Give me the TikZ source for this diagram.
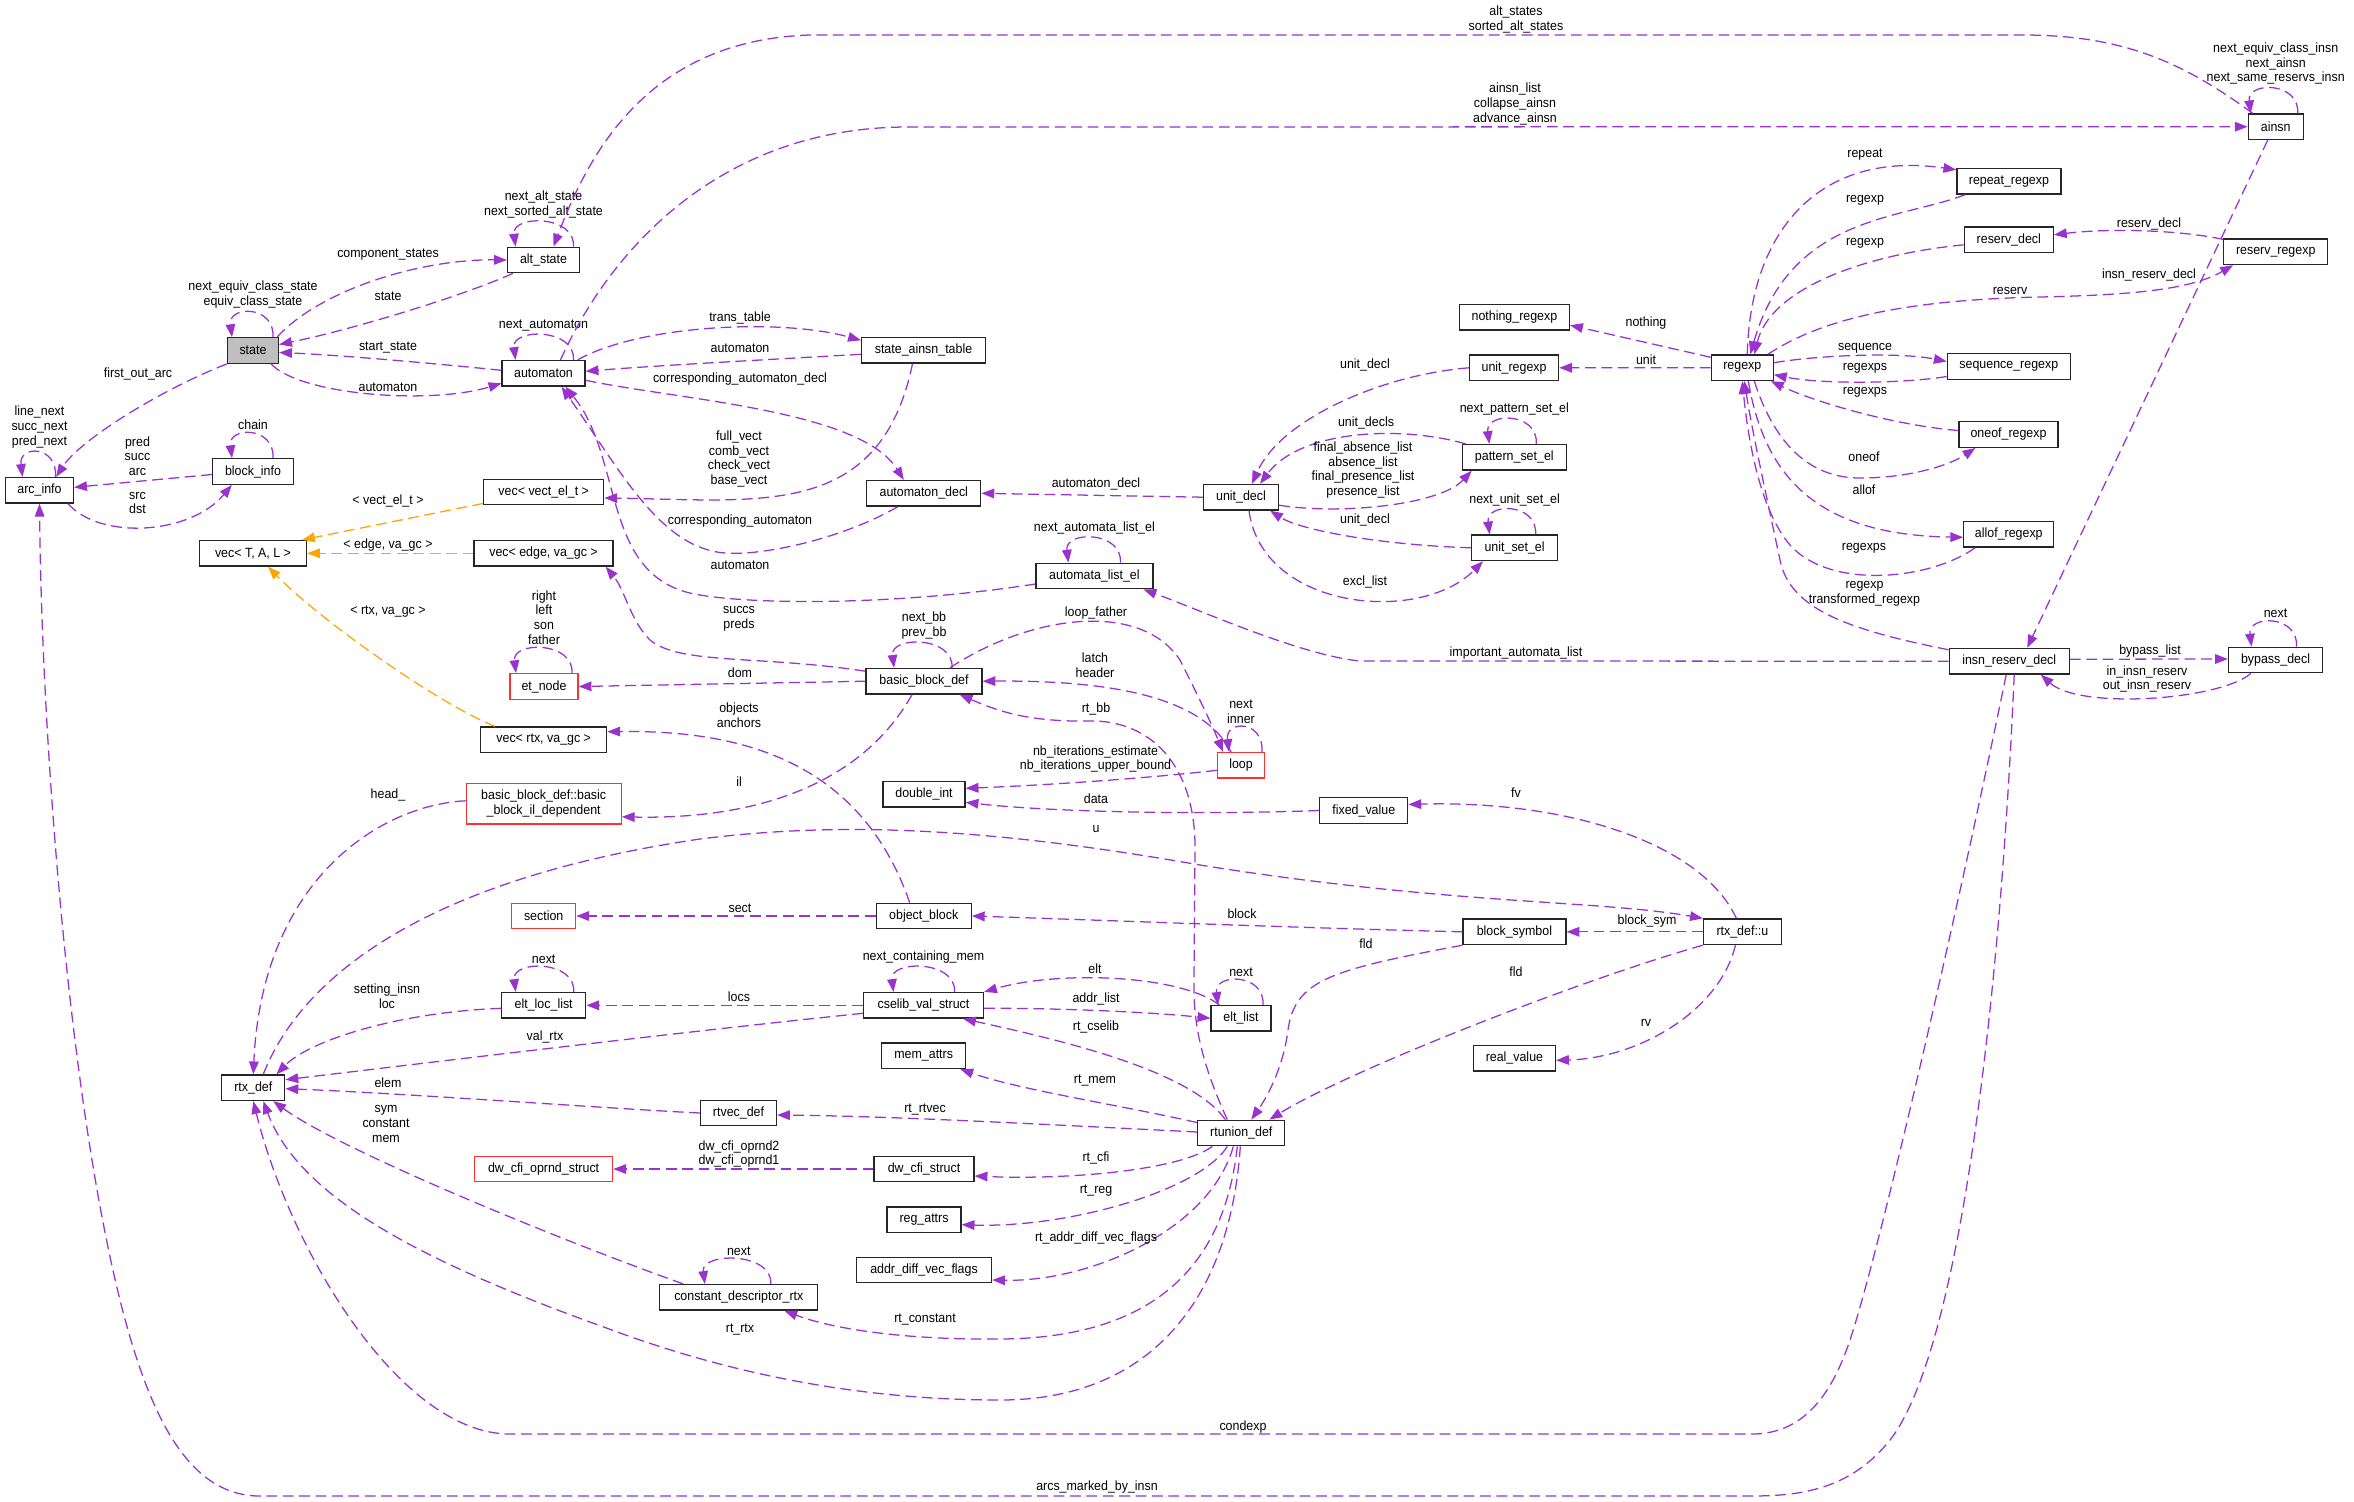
\documentclass[tikz,border=0pt]{standalone}
\usepackage{fontspec}
\setmainfont{Liberation Sans}[FakeStretch=0.93]
\usetikzlibrary{arrows.meta,calc}
\definecolor{dxpurple}{HTML}{9A32CD}
\definecolor{dxorange}{HTML}{FFA500}
\definecolor{dxred}{HTML}{FF3030}
\definecolor{dxgray}{HTML}{BFBFBF}
\newcommand\dxfont{\fontsize{9.5pt}{10.5pt}\selectfont}

\begin{document}
\begin{tikzpicture}[x=0.25mm, y=-0.25mm,
  box/.style={draw=black!85, fill=white, line width=0.9pt, minimum width=#1*0.25mm, minimum height=6.4mm, inner sep=1pt, font=\dxfont, align=center},
  redbox/.style={box=#1, draw=dxred},
  assoc/.style={draw=dxpurple, line width=0.9pt, dash pattern=on 2.7mm off 1.4mm, -{Triangle[length=3.2mm, width=2.4mm]}},
  tmpl/.style={assoc, draw=dxorange},
  lbl/.style={font=\dxfont, align=center, inner sep=0pt}
]
\fill[white] (0,0) rectangle (2354,1501);
\useasboundingbox (0,0) rectangle (2354,1501);

% automaton side
\node[box=51, fill=dxgray] (state) at (253,350.5) {state};
\node[box=72] (alt_state) at (543.5,260) {alt\_state};
\node[box=83] (automaton) at (543.5,373.3) {automaton};
\node[box=68] (arc_info) at (39.5,490.3) {arc\_info};
\node[box=81] (block_info) at (253,471.5) {block\_info};
\node[box=120] (vecvect) at (543.7,492) {vec< vect\_el\_t >};
\node[box=107] (vectal) at (253,553.3) {vec< T, A, L >};
\node[box=139] (vecedge) at (543.5,553.3) {vec< edge, va\_gc >};
\node[box=124] (sat) at (923.5,350.3) {state\_ainsn\_table};
\node[box=114] (automaton_decl) at (923.8,493.3) {automaton\_decl};
\node[box=117] (automata_list_el) at (1094.4,576) {automata\_list\_el};
\node[box=75] (unit_decl) at (1241,497.2) {unit\_decl};
\node[box=104] (pattern_set_el) at (1514.3,457.3) {pattern\_set\_el};
\node[box=86] (unit_set_el) at (1514.6,547.8) {unit\_set\_el};

% regexp side
\node[box=55] (ainsn) at (2275.7,126.7) {ainsn};
\node[box=104] (repeat) at (2008.9,181.2) {repeat\_regexp};
\node[box=89] (reserv_decl) at (2008.8,239.8) {reserv\_decl};
\node[box=104] (reserv_regexp) at (2275.7,251.8) {reserv\_regexp};
\node[box=110] (nothing) at (1514.4,317.2) {nothing\_regexp};
\node[box=89] (unit_regexp) at (1514.1,367.8) {unit\_regexp};
\node[box=62] (regexp) at (1742.3,367.7) {regexp};
\node[box=123] (sequence) at (2008.8,366.5) {sequence\_regexp};
\node[box=99] (oneof) at (2008.5,434.5) {oneof\_regexp};
\node[box=90] (allof) at (2008.8,534.3) {allof\_regexp};
\node[box=120] (insn_reserv) at (2009.2,661.2) {insn\_reserv\_decl};
\node[box=94] (bypass) at (2275.5,660) {bypass\_decl};

% rtl side
\node[redbox=68] (et_node) at (544,686.5) {et\_node};
\node[box=126] (vecrtx) at (543.7,739.7) {vec< rtx, va\_gc >};
\node[redbox=155, minimum height=10.1mm] (bbil) at (543.7,803.8) {basic\_block\_def::basic\\\_block\_il\_dependent};
\node[redbox=64] (section) at (543.7,916) {section};
\node[box=84] (elt_loc_list) at (543.7,1005.3) {elt\_loc\_list};
\node[box=63] (rtx_def) at (253.3,1087.7) {rtx\_def};
\node[box=76] (rtvec_def) at (738.5,1113) {rtvec\_def};
\node[redbox=138] (dw_cfi_oprnd) at (543.6,1169) {dw\_cfi\_oprnd\_struct};
\node[box=158] (cdrtx) at (738.8,1297.3) {constant\_descriptor\_rtx};
\node[box=116] (bbdef) at (924,681.2) {basic\_block\_def};
\node[redbox=47] (loop) at (1241,765.3) {loop};
\node[box=82] (double_int) at (924,794.3) {double\_int};
\node[box=88] (fixed_value) at (1363.8,810.5) {fixed\_value};
\node[box=95] (object_block) at (923.7,916) {object\_block};
\node[box=103] (block_symbol) at (1514.4,931.8) {block\_symbol};
\node[box=78] (rtxu) at (1742.4,931.8) {rtx\_def::u};
\node[box=82] (real_value) at (1514.4,1058.3) {real\_value};
\node[box=120] (cselib) at (923.5,1005.3) {cselib\_val\_struct};
\node[box=60] (elt_list) at (1241,1018.3) {elt\_list};
\node[box=84] (mem_attrs) at (923.7,1055.7) {mem\_attrs};
\node[box=87] (rtunion) at (1241.3,1133) {rtunion\_def};
\node[box=100] (dw_cfi_struct) at (924,1169) {dw\_cfi\_struct};
\node[box=74] (reg_attrs) at (924,1219.7) {reg\_attrs};
\node[box=135] (adv_flags) at (924,1270) {addr\_diff\_vec\_flags};

% self references
\foreach \nd/\lo/\ro/\txt in {
  state/21/20/{next\_equiv\_class\_state\\equiv\_class\_state},
  alt_state/28/30/{next\_alt\_state\\next\_sorted\_alt\_state},
  automaton/28/30/{next\_automaton},
  arc_info/17/16/{line\_next\\succ\_next\\pred\_next},
  block_info/21/20/{chain},
  et_node/28/28/{right\\left\\son\\father},
  elt_loc_list/28/30/{next},
  automata_list_el/26/26/{next\_automata\_list\_el},
  bbdef/30/28/{next\_bb\\prev\_bb},
  loop/12/21/{next\\inner},
  cselib/30/31/{next\_containing\_mem},
  elt_list/23/22/{next},
  cdrtx/34/32/{next},
  pattern_set_el/25/22/{next\_pattern\_set\_el},
  unit_set_el/25/21/{next\_unit\_set\_el},
  bypass/24/21/{next},
  ainsn/25/22/{next\_equiv\_class\_insn\\next\_ainsn\\next\_same\_reservs\_insn}}
  \draw[assoc] ($(\nd.north)+(\ro,0)$) .. controls +(2,-32) and +(-4,-32) .. ($(\nd.north)+(-\lo,0)$)
    node[lbl, anchor=south] at ($(\nd.north)+(0,-28)$) {\txt};

% state, automaton and units
\draw[assoc] ($(state.north east)+(-2,0)$) .. controls (320,290) and (420,259) .. (alt_state.west) node[lbl] at (388,255) {component\_states};
\draw[assoc] ($(alt_state.south west)+(6,0)$) .. controls (460,297) and (350,330) .. ($(state.east)+(0,-6)$) node[lbl] at (388,296) {state};
\draw[assoc] ($(automaton.west)+(0,-3)$) .. controls (440,364) and (340,355) .. ($(state.east)+(0,2)$) node[lbl] at (388,348) {start\_state};
\draw[assoc] ($(state.south east)+(-8,0)$) .. controls (300,395) and (430,405) .. ($(automaton.west)+(0,10)$) node[lbl] at (388,387) {automaton};
\draw[assoc] ($(ainsn.north west)+(5,0)$) .. controls (2180,60) and (2120,35) .. (2022,35) -- (810,35) .. controls (650,40) and (590,150) .. ($(alt_state.north)+(10,0)$) node[lbl] at (1516,19.5) {alt\_states\\sorted\_alt\_states};
\draw[assoc] ($(automaton.north)+(17,0)$) .. controls (610,250) and (720,127) .. (908,127) -- (ainsn.west) node[lbl] at (1515,104) {ainsn\_list\\collapse\_ainsn\\advance\_ainsn};
\draw[assoc] ($(automaton.north east)+(-8,0)$) .. controls (640,325) and (780,318) .. ($(sat.west)+(0,-10)$) node[lbl] at (740,318) {trans\_table};
\draw[assoc] ($(sat.west)+(0,4)$) .. controls (760,360) and (650,366) .. ($(automaton.east)+(0,-2)$) node[lbl] at (740,348) {automaton};
\draw[assoc] ($(automaton.east)+(0,7)$) .. controls (680,400) and (860,410) .. ($(automaton_decl.north)+(-20,0)$) node[lbl] at (740,379) {corresponding\_automaton\_decl};
\draw[assoc] ($(sat.south)+(-11,0)$) .. controls (880,520) and (760,500) .. ($(vecvect.east)+(0,6)$) node[lbl] at (739,459) {full\_vect\\comb\_vect\\check\_vect\\base\_vect};
\draw[assoc] ($(automaton_decl.south)+(-26,0)$) .. controls (840,540) and (760,556) .. (725,553) .. controls (660,548) and (620,470) .. ($(automaton.south)+(18,0)$) node[lbl] at (740,521) {corresponding\_automaton};
\draw[assoc] ($(automata_list_el.west)+(0,8)$) .. controls (900,605) and (760,605) .. (700,595) .. controls (600,580) and (625,460) .. ($(automaton.south)+(22,0)$) node[lbl] at (740,565) {automaton};
\draw[assoc] (unit_decl.west) -- (automaton_decl.east) node[lbl] at (1096,484) {automaton\_decl};
\draw[assoc] (unit_regexp.west) .. controls (1380,375) and (1280,420) .. ($(unit_decl.north)+(11,0)$) node[lbl] at (1365,365) {unit\_decl};
\draw[assoc] ($(pattern_set_el.north west)+(4,0)$) .. controls (1400,425) and (1300,430) .. ($(unit_decl.north)+(19,0)$) node[lbl] at (1366,423) {unit\_decls};
\draw[assoc] ($(unit_decl.east)+(0,8)$) .. controls (1340,515) and (1440,505) .. ($(pattern_set_el.south west)+(10,0)$) node[lbl] at (1363,470) {final\_absence\_list\\absence\_list\\final\_presence\_list\\presence\_list};
\draw[assoc] (unit_set_el.west) .. controls (1380,545) and (1300,530) .. ($(unit_decl.south east)+(-9,0)$) node[lbl] at (1365,520) {unit\_decl};
\draw[assoc] ($(unit_decl.south)+(8,0)$) .. controls (1262,610) and (1420,625) .. ($(unit_set_el.south west)+(12,0)$) node[lbl] at (1365,582) {excl\_list};

% arcs
\draw[assoc] (state.south west) .. controls (160,390) and (80,440) .. ($(arc_info.north east)+(-18,0)$) node[lbl] at (138,374) {first\_out\_arc};
\draw[assoc] ($(block_info.west)+(0,3)$) -- ($(arc_info.east)+(0,-3)$) node[lbl] at (137.5,456) {pred\\succ\\arc};
\draw[assoc] ($(arc_info.south east)+(-6,0)$) .. controls (100,540) and (190,535) .. ($(block_info.south west)+(20,0)$) node[lbl] at (137.5,503) {src\\dst};

% template instances
\draw[tmpl] ($(vecvect.south west)+(0,-2)$) -- ($(vectal.north east)+(-5,0)$) node[lbl] at (388,501) {< vect\_el\_t >};
\draw[tmpl] (vecedge.west) -- (vectal.east) node[lbl] at (388,545) {< edge, va\_gc >};
\draw[tmpl] ($(vecrtx.north west)+(15,0)$) .. controls (440,705) and (320,620) .. ($(vectal.south)+(15,0)$) node[lbl] at (388,612) {< rtx, va\_gc >};

% regexp
\draw[assoc] ($(ainsn.south)+(-8,0)$) -- ($(insn_reserv.north)+(18,0)$) node[lbl] at (2149,275) {insn\_reserv\_decl};
\draw[assoc] ($(reserv_regexp.north west)+(0,1)$) .. controls (2180,230) and (2110,228) .. ($(reserv_decl.east)+(0,-5)$) node[lbl] at (2149,224) {reserv\_decl};
\draw[assoc] ($(regexp.north east)+(-6,0)$) .. controls (1820,320) and (1900,300) .. (2040,297) .. controls (2130,295) and (2190,290) .. ($(reserv_regexp.south west)+(10,0)$) node[lbl] at (2010,291) {reserv};
\draw[assoc] ($(regexp.north)+(5,0)$) .. controls (1750,230) and (1820,150) .. ($(repeat.north west)+(0,2)$) node[lbl] at (1865,155) {repeat};
\draw[assoc] ($(repeat.south west)+(9,0)$) .. controls (1900,220) and (1790,215) .. ($(regexp.north)+(8,0)$) node[lbl] at (1865,200) {regexp};
\draw[assoc] ($(reserv_decl.west)+(0,5)$) .. controls (1860,255) and (1770,290) .. ($(regexp.north)+(12,0)$) node[lbl] at (1865,243) {regexp};
\draw[assoc] ($(regexp.north west)+(0,3)$) -- ($(nothing.east)+(0,8)$) node[lbl] at (1646,323) {nothing};
\draw[assoc] (regexp.west) -- (unit_regexp.east) node[lbl] at (1646,360) {unit};
\draw[assoc] ($(regexp.east)+(0,-5)$) .. controls (1820,355) and (1900,352) .. ($(sequence.west)+(0,-5)$) node[lbl] at (1865,348) {sequence};
\draw[assoc] ($(sequence.west)+(0,10)$) .. controls (1900,384) and (1820,384) .. ($(regexp.east)+(0,7)$) node[lbl] at (1865,368) {regexps};
\draw[assoc] ($(oneof.west)+(0,-4)$) .. controls (1890,425) and (1810,400) .. ($(regexp.south east)+(-3,0)$) node[lbl] at (1865,392) {regexps};
\draw[assoc] ($(regexp.south)+(12,0)$) .. controls (1770,430) and (1800,478) .. (1860,478) .. controls (1910,478) and (1950,465) .. ($(oneof.south west)+(17,0)$) node[lbl] at (1864,457) {oneof};
\draw[assoc] ($(regexp.south)+(6,0)$) .. controls (1765,480) and (1820,535) .. ($(allof.west)+(0,3)$) node[lbl] at (1864,490) {allof};
\draw[assoc] ($(allof.south west)+(12,0)$) .. controls (1930,580) and (1830,590) .. (1790,545) .. controls (1760,510) and (1748,440) .. (regexp.south) node[lbl] at (1864,548) {regexps};
\draw[assoc] ($(insn_reserv.north west)+(0,2)$) .. controls (1850,630) and (1790,610) .. (1780,560) .. controls (1765,490) and (1752,430) .. ($(regexp.south)+(2,0)$) node[lbl] at (1864.5,594) {regexp\\transformed\_regexp};
\draw[assoc] (insn_reserv.west) -- (1360,661) .. controls (1300,655) and (1200,610) .. ($(automata_list_el.south east)+(-10,0)$) node[lbl] at (1516,653) {important\_automata\_list};
\draw[assoc] ($(insn_reserv.east)+(0,-2)$) -- ($(bypass.west)+(0,-1)$) node[lbl] at (2150,651) {bypass\_list};
\draw[assoc] ($(bypass.south west)+(23,0)$) .. controls (2220,700) and (2080,710) .. ($(insn_reserv.south east)+(-29,0)$) node[lbl] at (2147,679) {in\_insn\_reserv\\out\_insn\_reserv};
\draw[assoc] ($(insn_reserv.south)+(-3,0)$) .. controls (1960,900) and (1880,1250) .. (1850,1340) .. controls (1830,1400) and (1800,1434) .. (1752,1434) -- (510,1434) .. controls (400,1434) and (290,1250) .. (rtx_def.south) node[lbl] at (1243,1427) {condexp};
\draw[assoc] ($(insn_reserv.south)+(5,0)$) .. controls (2000,1000) and (1960,1350) .. (1890,1440) .. controls (1850,1490) and (1800,1496) .. (1750,1496) -- (260,1496) .. controls (190,1496) and (150,1420) .. (120,1300) .. controls (70,1100) and (42,750) .. (arc_info.south) node[lbl] at (1097,1487) {arcs\_marked\_by\_insn};

% basic blocks and loops
\draw[assoc] ($(bbdef.west)+(0,-10)$) .. controls (760,655) and (680,665) .. (650,640) .. controls (630,620) and (625,590) .. ($(vecedge.south east)+(-8,0)$) node[lbl] at (739,619) {succs\\preds};
\draw[assoc] (bbdef.west) -- (et_node.east) node[lbl] at (740,673) {dom};
\draw[assoc] ($(bbdef.north)+(26,0)$) .. controls (1030,615) and (1140,600) .. (1180,660) .. controls (1195,690) and (1210,720) .. ($(loop.north)+(-18,0)$) node[lbl] at (1096,613) {loop\_father};
\draw[assoc] ($(loop.north)+(-10,0)$) .. controls (1205,700) and (1120,680) .. (bbdef.east) node[lbl] at (1095,665.5) {latch\\header};
\draw[assoc] ($(rtunion.north)+(-14,0)$) .. controls (1200,1060) and (1193,1020) .. (1194,980) -- (1195,850) .. controls (1196,765) and (1150,720) .. (1090,721) .. controls (1030,722) and (1000,712) .. ($(bbdef.south east)+(-23,0)$) node[lbl] at (1096,709) {rt\_bb};
\draw[assoc] ($(loop.west)+(0,5)$) .. controls (1150,778) and (1050,785) .. ($(double_int.east)+(0,-6)$) node[lbl] at (1095.5,759) {nb\_iterations\_estimate\\nb\_iterations\_upper\_bound};
\draw[assoc] (fixed_value.west) .. controls (1200,815) and (1050,812) .. ($(double_int.east)+(0,8)$) node[lbl] at (1096,799) {data};
\draw[assoc] ($(bbdef.south)+(-12,0)$) .. controls (870,770) and (780,820) .. ($(bbil.east)+(0,13)$) node[lbl] at (739,782) {il};
\draw[assoc] ($(object_block.north)+(-14,0)$) .. controls (860,760) and (740,730) .. ($(vecrtx.east)+(0,-8)$) node[lbl] at (739,715) {objects\\anchors};
\draw[assoc] (object_block.west) -- (section.east) node[lbl] at (740,908) {sect};
\draw[assoc] (block_symbol.west) .. controls (1300,928) and (1100,920) .. (object_block.east) node[lbl] at (1242,914) {block};

% rtx
\draw[assoc] ($(rtxu.north)+(-6,0)$) .. controls (1700,840) and (1560,800) .. ($(fixed_value.east)+(0,-6)$) node[lbl] at (1516,793) {fv};
\draw[assoc] ($(rtx_def.north)+(10,0)$) .. controls (300,980) and (420,880) .. (700,839) .. controls (850,820) and (1000,830) .. (1200,865) .. controls (1450,905) and (1600,900) .. (rtxu.north west) node[lbl] at (1096,829) {u};
\draw[assoc] (rtxu.west) -- (block_symbol.east) node[lbl] at (1647,921) {block\_sym};
\draw[assoc] (block_symbol.south west) .. controls (1330,970) and (1295,980) .. (1288,1030) .. controls (1283,1070) and (1265,1100) .. ($(rtunion.north)+(10,0)$) node[lbl] at (1366,944) {fld};
\draw[assoc] (rtxu.south west) .. controls (1580,980) and (1350,1070) .. ($(rtunion.north east)+(-16,0)$) node[lbl] at (1516,972) {fld};
\draw[assoc] ($(rtxu.south)+(-7,0)$) .. controls (1720,1010) and (1640,1058) .. ($(real_value.east)+(0,2)$) node[lbl] at (1646,1023) {rv};
\draw[assoc] ($(elt_list.north west)+(9,0)$) .. controls (1180,975) and (1060,970) .. (cselib.north east) node[lbl] at (1095,969) {elt};
\draw[assoc] ($(cselib.east)+(0,3)$) .. controls (1060,1008) and (1150,1012) .. (elt_list.west) node[lbl] at (1096,999) {addr\_list};
\draw[assoc] (cselib.west) -- (elt_loc_list.east) node[lbl] at (739,997) {locs};
\draw[assoc] ($(elt_loc_list.west)+(0,3)$) .. controls (400,1012) and (310,1040) .. ($(rtx_def.north east)+(-9,0)$) node[lbl] at (387,996) {setting\_insn\\loc};
\draw[assoc] ($(cselib.west)+(0,8)$) .. controls (700,1030) and (450,1060) .. ($(rtx_def.east)+(0,-8)$) node[lbl] at (545,1037) {val\_rtx};
\draw[assoc] ($(rtunion.north)+(-16,0)$) .. controls (1190,1070) and (1060,1040) .. ($(cselib.south east)+(-21,0)$) node[lbl] at (1096,1027) {rt\_cselib};
\draw[assoc] ($(rtunion.north west)+(0,3)$) .. controls (1120,1105) and (1020,1090) .. ($(mem_attrs.south east)+(-6,0)$) node[lbl] at (1095,1080) {rt\_mem};
\draw[assoc] (rtvec_def.west) .. controls (600,1108) and (400,1093) .. ($(rtx_def.east)+(0,1)$) node[lbl] at (388,1083) {elem};
\draw[assoc] ($(rtunion.west)+(0,-1)$) .. controls (1000,1122) and (880,1116) .. ($(rtvec_def.east)+(0,2)$) node[lbl] at (925,1109) {rt\_rtvec};
\draw[assoc] ($(rtunion.south)+(-29,0)$) .. controls (1180,1170) and (1070,1180) .. ($(dw_cfi_struct.east)+(0,7)$) node[lbl] at (1096,1158) {rt\_cfi};
\draw[assoc] (dw_cfi_struct.west) -- (dw_cfi_oprnd.east) node[lbl] at (739,1154) {dw\_cfi\_oprnd2\\dw\_cfi\_oprnd1};
\draw[assoc] ($(rtunion.south)+(-14,0)$) .. controls (1200,1190) and (1070,1228) .. ($(reg_attrs.east)+(0,5)$) node[lbl] at (1096,1191) {rt\_reg};
\draw[assoc] ($(rtunion.south)+(-8,0)$) .. controls (1210,1230) and (1090,1282) .. ($(adv_flags.east)+(0,10)$) node[lbl] at (1096,1238) {rt\_addr\_diff\_vec\_flags};
\draw[assoc] ($(rtunion.south)+(-4,0)$) .. controls (1225,1260) and (1160,1338) .. (1000,1339) .. controls (900,1340) and (830,1328) .. ($(cdrtx.south east)+(-34,0)$) node[lbl] at (925,1319) {rt\_constant};
\draw[assoc] ($(cdrtx.north west)+(24,0)$) .. controls (560,1240) and (340,1150) .. ($(rtx_def.south)+(20,0)$) node[lbl] at (386,1124) {sym\\constant\\mem};
\draw[assoc] ($(rtunion.south)+(-1,0)$) .. controls (1230,1300) and (1150,1400) .. (1000,1400) .. controls (850,1400) and (720,1370) .. (612,1330) .. controls (430,1265) and (300,1200) .. ($(rtx_def.south)+(10,0)$) node[lbl] at (740,1329) {rt\_rtx};
\draw[assoc] ($(bbil.west)+(0,-3)$) .. controls (380,805) and (262,880) .. ($(rtx_def.north)+(0,0)$) node[lbl] at (388,795) {head\_};

\end{tikzpicture}
\end{document}
